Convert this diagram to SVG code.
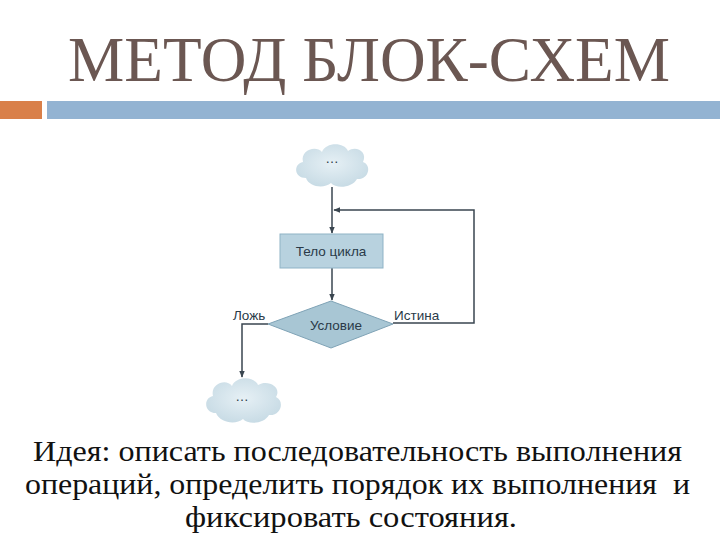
<svg xmlns="http://www.w3.org/2000/svg" width="720" height="540" viewBox="0 0 720 540">
<style>
.title{font-family:"Liberation Serif",serif;font-size:64px;fill:#6b5752}
.body{font-family:"Liberation Serif",serif;font-size:29px;fill:#111}
.lbl{font-family:"Liberation Sans",Arial,sans-serif;font-size:13.5px;fill:#2a3a48}
.conn{stroke:#3a4650;stroke-width:1.5;fill:none}
.cloud{fill:url(#cg)}
</style>
<defs>
<radialGradient id="cg" cx="0.5" cy="0.45" r="0.6">
<stop offset="0" stop-color="#e6f0f5"/>
<stop offset="1" stop-color="#c6dae4"/>
</radialGradient>
<marker id="ar" viewBox="0 0 10 10" refX="9" refY="5" markerWidth="7" markerHeight="7" orient="auto" markerUnits="userSpaceOnUse">
<path d="M0,1 L10,5 L0,9 Z" fill="#3a4650"/>
</marker>
</defs>
<rect width="720" height="540" fill="#fff"/>
<text class="title" x="68" y="81" textLength="602" lengthAdjust="spacingAndGlyphs">МЕТОД БЛОК-СХЕМ</text>
<rect x="0" y="101" width="42" height="18" fill="#d9804a"/>
<rect x="47" y="101" width="673" height="18" fill="#93b3d2"/>
<g id="connectors">
<line class="conn" x1="332" y1="187" x2="332" y2="233" marker-end="url(#ar)"/>
<polyline class="conn" points="393,323 474,323 474,210 334,210" marker-end="url(#ar)"/>
<line class="conn" x1="332" y1="268" x2="332" y2="300" marker-end="url(#ar)"/>
<polyline class="conn" points="268,324 242,324 242,377" marker-end="url(#ar)"/>
</g>
<g id="start">
<path class="cloud" d="M306,178 C294,178 293,164 303,162 C300,150 316,145 322,152 C326,142 344,142 348,151 C356,145 368,152 363,162 C372,165 369,180 357,179 C352,188 336,189 331,183 C324,189 309,187 306,178 Z"/>
<text class="lbl" x="332" y="163" text-anchor="middle">…</text>
</g>
<g id="body">
<rect x="280" y="234" width="103" height="34" fill="#b8d2df" stroke="#8fb3c6" stroke-width="1"/>
<text class="lbl" x="331" y="256" text-anchor="middle">Тело цикла</text>
</g>
<g id="cond">
<polygon points="268,324 331,301 393,324 331,348" fill="#a8c6d4" stroke="#7fa3b6" stroke-width="1"/>
<text class="lbl" x="336" y="330" text-anchor="middle">Условие</text>
<text class="lbl" x="233" y="320">Ложь</text>
<text class="lbl" x="394" y="320">Истина</text>
</g>
<g id="end">
<path class="cloud" d="M216,413 C204,413 203,398 213,396 C210,384 226,378 232,386 C236,376 254,376 258,385 C268,379 282,387 276,397 C285,401 281,416 269,415 C264,424 248,425 243,419 C236,425 220,423 216,413 Z"/>
<text class="lbl" x="242" y="401" text-anchor="middle">…</text>
</g>
<text class="body" x="33" y="461" textLength="649" lengthAdjust="spacingAndGlyphs">Идея: описать последовательность выполнения</text>
<text class="body" x="25" y="494" textLength="665" lengthAdjust="spacingAndGlyphs" xml:space="preserve">операций, определить порядок их выполнения  и</text>
<text class="body" x="185" y="527" textLength="332" lengthAdjust="spacingAndGlyphs">фиксировать состояния.</text>
</svg>
